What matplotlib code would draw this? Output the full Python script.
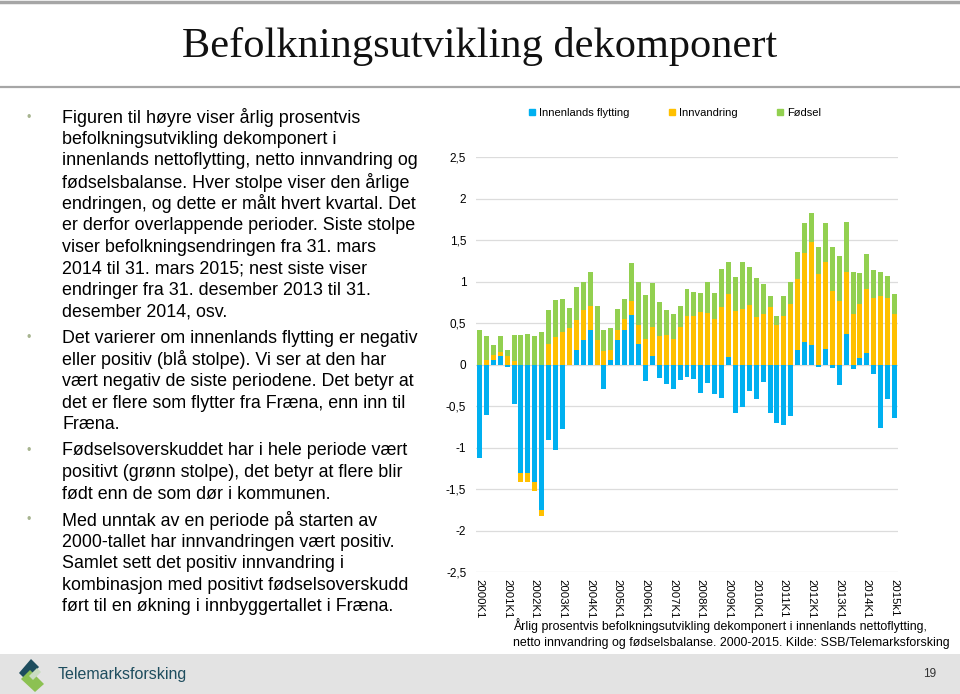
import matplotlib
matplotlib.use("Agg")
import matplotlib.pyplot as plt
from matplotlib.patches import Patch, Rectangle, Polygon
import numpy as np

# ---- data (percent) ----
tick_labels = ['2000K1', '2001K1', '2002K1', '2003K1', '2004K1', '2005K1', '2006K1', '2007K1',
               '2008K1', '2009K1', '2010K1', '2011K1', '2012K1', '2013K1', '2014K1', '2015k1']

innenlands = [-1.13, -0.61, 0.06, 0.10, -0.03, -0.48, -1.31, -1.31, -1.42, -1.75,
              -0.91, -1.03, -0.78, 0.00, 0.18, 0.30, 0.42, -0.01, -0.30, 0.06,
              0.29, 0.42, 0.60, 0.25, -0.20, 0.10, -0.16, -0.24, -0.30, -0.19,
              -0.15, -0.17, -0.34, -0.22, -0.35, -0.40, 0.09, -0.58, -0.51, -0.32,
              -0.42, -0.21, -0.58, -0.70, -0.73, -0.62, 0.17, 0.27, 0.23, -0.03,
              0.19, -0.04, -0.25, 0.37, -0.06, 0.08, 0.14, -0.11, -0.77, -0.42,
              -0.64]
innvandring = [0.00, 0.06, 0.05, 0.05, 0.10, 0.04, -0.10, -0.10, -0.11, -0.07,
               0.25, 0.33, 0.39, 0.44, 0.36, 0.36, 0.29, 0.30, 0.16, 0.12,
               0.13, 0.13, 0.17, 0.22, 0.31, 0.35, 0.34, 0.36, 0.31, 0.45,
               0.59, 0.59, 0.63, 0.62, 0.55, 0.69, 0.76, 0.64, 0.67, 0.72,
               0.57, 0.61, 0.69, 0.47, 0.58, 0.73, 0.86, 1.07, 1.25, 1.09,
               1.04, 0.88, 0.77, 0.74, 0.61, 0.65, 0.77, 0.80, 0.82, 0.80,
               0.61]
fodsel = [0.41, 0.28, 0.13, 0.19, 0.08, 0.32, 0.36, 0.37, 0.34, 0.39,
          0.41, 0.45, 0.40, 0.24, 0.39, 0.34, 0.40, 0.41, 0.26, 0.26,
          0.25, 0.24, 0.45, 0.53, 0.53, 0.53, 0.41, 0.30, 0.30, 0.26,
          0.32, 0.28, 0.23, 0.38, 0.31, 0.46, 0.39, 0.41, 0.56, 0.45,
          0.47, 0.36, 0.13, 0.12, 0.24, 0.27, 0.33, 0.37, 0.34, 0.32,
          0.48, 0.54, 0.54, 0.61, 0.50, 0.37, 0.42, 0.34, 0.30, 0.27,
          0.24]

series_names = ['Innenlands flytting', 'Innvandring', 'Fødsel']
colors = ['#00b0f0', '#ffc000', '#92d050']

paragraphs = [
    ['Figuren til høyre viser årlig prosentvis',
     'befolkningsutvikling dekomponert i',
     'innenlands nettoflytting, netto innvandring og',
     'fødselsbalanse. Hver stolpe viser den årlige',
     'endringen, og dette er målt hvert kvartal. Det',
     'er derfor overlappende perioder. Siste stolpe',
     'viser befolkningsendringen fra 31. mars',
     '2014 til 31. mars 2015; nest siste viser',
     'endringer fra 31. desember 2013 til 31.',
     'desember 2014, osv.'],
    ['Det varierer om innenlands flytting er negativ',
     'eller positiv (blå stolpe). Vi ser at den har',
     'vært negativ de siste periodene. Det betyr at',
     'det er flere som flytter fra Fræna, enn inn til',
     'Fræna.'],
    ['Fødselsoverskuddet har i hele periode vært',
     'positivt (grønn stolpe), det betyr at flere blir',
     'født enn de som dør i kommunen.'],
    ['Med unntak av en periode på starten av',
     '2000-tallet har innvandringen vært positiv.',
     'Samlet sett det positiv innvandring i',
     'kombinasjon med positivt fødselsoverskudd',
     'ført til en økning i innbyggertallet i Fræna.'],
]

plt.rcParams['font.family'] = ['Liberation Sans', 'DejaVu Sans']

W, H = 960, 694
fig = plt.figure(figsize=(W / 100, H / 100), dpi=100)

# background layer in pixel coordinates
bg = fig.add_axes([0, 0, 1, 1])
bg.set_xlim(0, W)
bg.set_ylim(H, 0)
bg.axis('off')

bg.plot([0, W], [1.5, 1.5], color='#a6a6a6', lw=2.5)
bg.plot([0, W], [87, 87], color='#a6a6a6', lw=1.6)
bg.text(480, 46, 'Befolkningsutvikling dekomponert', family='Liberation Serif',
        fontsize=30.5, ha='center', va='center', color='#111111')

# bullet text
y = 117.5
for para in paragraphs:
    bg.text(29, y, '•', fontsize=9, color='#a7b48f', ha='center', va='center')
    for i, line in enumerate(para):
        bg.text(62, y + i * 21.6, line, fontsize=12.9, va='center', color='black')
    y += (len(para) - 1) * 21.6 + 26.3

# caption under chart
bg.text(513, 626, 'Årlig prosentvis befolkningsutvikling dekomponert i innenlands nettoflytting,',
        fontsize=8.9, va='center')
bg.text(513, 643, 'netto innvandring og fødselsbalanse. 2000-2015. Kilde: SSB/Telemarksforsking',
        fontsize=8.9, va='center')

# footer band with logo and page number
bg.add_patch(Rectangle((0, 654), W, 40, color='#e3e3e3', lw=0))
bg.add_patch(Polygon([(19, 673), (31, 659), (39, 667), (27, 681)], color='#1e4d5e', lw=0))
bg.add_patch(Polygon([(21, 679), (30, 670), (44, 684), (35, 692)], color='#8cc152', lw=0))
bg.add_patch(Polygon([(29, 676), (37, 668), (41, 672), (33, 680)], color='#c9dcc0', lw=0))
bg.text(58, 674, 'Telemarksforsking', fontsize=11.5, color='#1e4d5e', va='center')
bg.text(930, 674, '19', fontsize=8.5, color='#333333', ha='center', va='center')

# chart
ax = fig.add_axes([476 / W, 1 - 572 / H, (898 - 476) / W, (572 - 157) / H])
x = np.arange(len(innenlands))
pos = np.zeros(len(x))
neg = np.zeros(len(x))
for vals, col, name in zip([innenlands, innvandring, fodsel], colors, series_names):
    v = np.array(vals)
    bottom = np.where(v >= 0, pos, neg)
    ax.bar(x, v, width=0.72, bottom=bottom, color=col, label=name, linewidth=0, zorder=2)
    pos += np.clip(v, 0, None)
    neg += np.clip(v, None, 0)

ax.set_xlim(-0.5, len(x) - 0.5)
ax.set_ylim(-2.5, 2.5)
yt = np.arange(-2.5, 2.51, 0.5)
ax.set_yticks(yt)
ax.set_yticklabels([f'{v:g}'.replace('.', ',') for v in yt], fontsize=8.5)
ax.set_xticks(x[::4])
ax.set_xticklabels(tick_labels, rotation=-90, fontsize=8.2)
ax.tick_params(length=0)
ax.tick_params(axis='y', pad=7)
ax.tick_params(axis='x', pad=5)
ax.yaxis.grid(True, color='#dcdcdc', lw=0.9, zorder=0)
ax.set_axisbelow(True)
for s in ax.spines.values():
    s.set_visible(False)
ax.patch.set_alpha(0)

handles = [Patch(color=c, label=n) for c, n in zip(colors, series_names)]
ax.legend(handles=handles, loc='center', bbox_to_anchor=(675 / W, 1 - 113 / H),
          bbox_transform=fig.transFigure, ncol=3, frameon=False, fontsize=8,
          handlelength=0.55, handleheight=0.55, handletextpad=0.3, columnspacing=3.6)

fig.savefig('out.png', dpi=100)
